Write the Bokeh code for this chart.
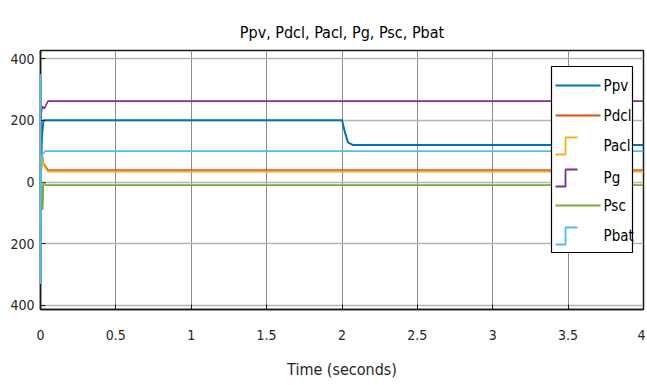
from bokeh.plotting import figure
from bokeh.models import Range1d, BoxAnnotation, Label, FixedTicker
from bokeh.embed import file_html
from bokeh.resources import INLINE

FONT = "'Liberation Sans Narrow', 'Arial Narrow', 'DejaVu Sans Condensed', sans-serif"

# ---- axis ticks / labels ----
x_ticks = [0, 0.5, 1, 1.5, 2, 2.5, 3, 3.5, 4]
x_tick_labels = ["0", "0.5", "1", "1.5", "2", "2.5", "3", "3.5", "4"]
y_ticks = [-400, -200, 0, 200, 400]
y_tick_labels = ["400", "200", "0", "200", "400"]

# ---- series (time in s, power) ----
t_ppv = [0, 0.01, 0.02, 2.0, 2.02, 2.04, 2.07, 4.0]
ppv = [0, 150, 200, 200, 160, 128, 120, 120]

t_pdcl = [0, 0.012, 0.02, 0.05, 4.0]
pdcl = [0, 85, 60, 39, 39]

t_pacl = [0, 0.012, 0.02, 0.05, 4.0]
pacl = [0, 90, 55, 33, 33]

t_pg = [0, 0.005, 0.012, 0.025, 0.05, 4.0]
pg = [0, 225, 245, 238, 262, 262]

t_psc = [0, 0.01, 0.013, 0.02, 0.035, 4.0]
psc = [0, -20, -90, 0, -10, -10]

t_pbat = [0, 0.002, 0.004, 0.01, 0.03, 0.05, 4.0]
pbat = [350, -330, 60, 88, 100, 100, 100]

names = ["Ppv", "Pdcl", "Pacl", "Pg", "Psc", "Pbat"]
colors = ["#0072BD", "#D95319", "#EDB120", "#7E2F8E", "#77AC30", "#4DBEEE"]
legend_kind = ["line", "line", "step", "step", "line", "step"]

series = [(t_ppv, ppv), (t_pdcl, pdcl), (t_pacl, pacl), (t_pg, pg), (t_psc, psc), (t_pbat, pbat)]

X0, X1 = 0, 4
Y0, Y1 = -413, 426
W, H = 645, 383
BL, BR, BT, BB = 40, 2, 50, 74
FW = W - BL - BR
FH = H - BT - BB

p = figure(width=W, height=H, output_backend="svg", toolbar_location=None,
           x_range=Range1d(X0, X1), y_range=Range1d(Y0, Y1),
           min_border_left=BL, min_border_right=BR, min_border_top=BT, min_border_bottom=BB,
           title="Ppv, Pdcl, Pacl, Pg, Psc, Pbat")

p.title.align = "center"
p.title.text_font = FONT
p.title.text_font_size = "16px"
p.title.text_font_style = "normal"
p.title.text_color = "#000000"
p.title.standoff = 18

p.outline_line_color = "#1a1a1a"
p.outline_line_width = 1.5
p.outline_line_alpha = 1
p.background_fill_color = "white"
p.border_fill_color = "white"

p.xaxis.ticker = FixedTicker(ticks=x_ticks)
p.yaxis.ticker = FixedTicker(ticks=y_ticks)
p.xaxis.major_label_overrides = {t: l for t, l in zip(x_ticks, x_tick_labels)}
p.yaxis.major_label_overrides = {t: l for t, l in zip(y_ticks, y_tick_labels)}
p.xaxis.axis_label = "Time (seconds)"

for ax in (p.xaxis[0], p.yaxis[0]):
    ax.axis_line_color = "#1a1a1a"
    ax.axis_line_width = 1.5
    ax.major_tick_in = 5
    ax.major_tick_out = 0
    ax.minor_tick_in = 0
    ax.minor_tick_out = 0
    ax.major_tick_line_color = "#1a1a1a"
    ax.major_label_text_font = FONT
    ax.major_label_text_font_size = "14px"
    ax.major_label_text_color = "#262626"
    ax.axis_label_text_font = FONT
    ax.axis_label_text_font_size = "16px"
    ax.axis_label_text_font_style = "normal"
    ax.axis_label_text_color = "#262626"

p.xaxis.major_label_standoff = 20
p.xaxis.axis_label_standoff = 17
p.yaxis.major_label_standoff = 6

p.xgrid.grid_line_color = "#8c8c8c"
p.xgrid.grid_line_width = 1
p.ygrid.grid_line_color = "#b4b4b4"
p.ygrid.grid_line_width = 1.5

for (t, v), c, n in zip(series, colors, names):
    p.line(t, v, line_color=c, line_width=2 if n == "Ppv" else 1.6)

# start-up transients drawn again above the axis line (as in the reference)
p.line(t_psc[:4], psc[:4], line_color=colors[4], line_width=1.6, level="overlay")
p.line(t_pbat[:4], pbat[:4], line_color=colors[5], line_width=1.6, level="overlay")

# ---- legend (hand-drawn, matching MATLAB style) ----
def px2x(dx_from_frame_right):
    return X1 - dx_from_frame_right / FW * (X1 - X0)

def py2y(dy_from_frame_top):
    return Y1 - dy_from_frame_top / FH * (Y1 - Y0)

lg_left, lg_right, lg_top, lg_bottom = 92, 11, 16, 202
p.add_layout(BoxAnnotation(left=px2x(lg_left), right=px2x(lg_right),
                           top=py2y(lg_top), bottom=py2y(lg_bottom),
                           fill_color="white", fill_alpha=1,
                           line_color="#000000", line_alpha=1, line_width=1.2,
                           level="annotation"))

row_y = [35, 65, 95, 127, 155, 185]
for i, (n, c, k) in enumerate(zip(names, colors, legend_kind)):
    yc = row_y[i]
    if k == "line":
        xs = [px2x(lg_left - 4), px2x(lg_left - 49)]
        ys = [py2y(yc), py2y(yc)]
    else:
        xs = [px2x(lg_left - 4), px2x(lg_left - 14), px2x(lg_left - 14), px2x(lg_left - 26)]
        ys = [py2y(yc + 9), py2y(yc + 9), py2y(yc - 8), py2y(yc - 8)]
    p.line(xs, ys, line_color=c, line_width=1.8, level="overlay")
    p.add_layout(Label(x=px2x(lg_left - 52), y=py2y(yc), text=n,
                       text_font=FONT, text_font_size="15px", text_color="#000000",
                       text_baseline="middle", text_align="left", level="overlay"))

open("out.html", "w").write(file_html(p, INLINE))
